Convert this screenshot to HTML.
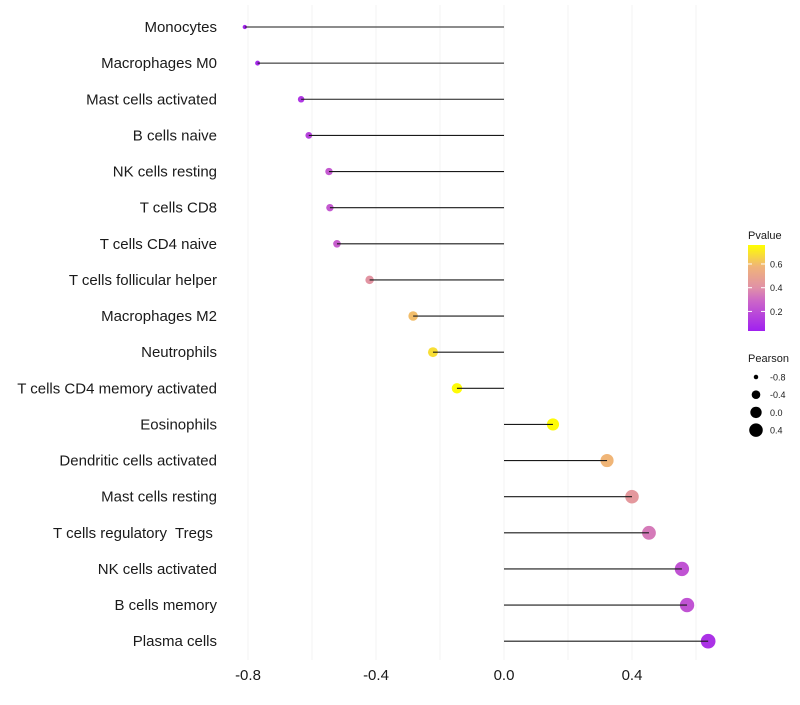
<!DOCTYPE html>
<html><head><meta charset="utf-8"><style>
body{margin:0;background:#fff;font-family:"Liberation Sans",sans-serif}
</style></head><body>
<svg id="chart" width="800" height="700" xmlns="http://www.w3.org/2000/svg"></svg>
<script>
const categories=["Monocytes","Macrophages M0","Mast cells activated","B cells naive","NK cells resting","T cells CD8","T cells CD4 naive","T cells follicular helper","Macrophages M2","Neutrophils","T cells CD4 memory activated","Eosinophils","Dendritic cells activated","Mast cells resting","T cells regulatory  Tregs ","NK cells activated","B cells memory","Plasma cells"];
const pearson=[-0.81,-0.77,-0.634,-0.61,-0.547,-0.544,-0.522,-0.42,-0.284,-0.222,-0.147,0.153,0.322,0.40,0.453,0.556,0.572,0.638];
const pvalue=[0.05,0.07,0.12,0.16,0.24,0.24,0.26,0.42,0.6,0.68,0.75,0.75,0.58,0.44,0.34,0.22,0.22,0.1];
const xTicks=[-0.8,-0.4,0.0,0.4];
const xTickLabels=["-0.8","-0.4","0.0","0.4"];
const pTicks=[0.2,0.4,0.6];
const sizeTicks=[-0.8,-0.4,0.0,0.4];
const NS="http://www.w3.org/2000/svg";
const svg=document.getElementById('chart');
function mk(t,a,p){const e=document.createElementNS(NS,t);for(const k in a)e.setAttribute(k,a[k]);(p||svg).appendChild(e);return e;}
const x=v=>504+v*320;
const y=i=>27+i*36.13;
const pMin=0.035,pMax=0.76;
const stops=[[0,[160,32,240]],[0.35,[204,102,200]],[0.5,[224,144,168]],[0.75,[240,180,120]],[1,[255,255,0]]];
function colT(t){t=Math.max(0,Math.min(1,t));for(let k=1;k<stops.length;k++){if(t<=stops[k][0]){const [t0,a]=stops[k-1],[t1,b]=stops[k];const f=(t-t0)/(t1-t0);return `rgb(${a.map((c,j)=>Math.round(c+(b[j]-c)*f)).join(',')})`;}}return 'rgb(255,255,0)';}
const col=p=>colT((p-pMin)/(pMax-pMin));
const r=v=>Math.sqrt(Math.max(1,5+(v+0.8)*34));
for(let v=-0.8;v<=0.61;v+=0.2){const g=mk('line',{x1:x(v),x2:x(v),y1:5,y2:660,stroke:'#f3f3f3','stroke-width':1});

}
categories.forEach((c,i)=>{
const t=mk('text',{x:217,y:y(i)+5,'text-anchor':'end','font-size':15,fill:'#1a1a1a','xml:space':'preserve'});t.style.whiteSpace='pre';t.textContent=c;


const d=mk('circle',{cx:x(pearson[i]),cy:y(i),r:r(pearson[i]),fill:col(pvalue[i])});


const l=mk('line',{x1:x(0),x2:x(pearson[i]),y1:y(i),y2:y(i),stroke:'#1a1a1a','stroke-width':1.1});


});
xTicks.forEach((v,i)=>{const t=mk('text',{x:x(v),y:680,'text-anchor':'middle','font-size':15,fill:'#1a1a1a'});t.textContent=xTickLabels[i];

});
const lt=mk('text',{x:748,y:239,'font-size':11,fill:'#1a1a1a'});lt.textContent='Pvalue';


const defs=mk('defs',{});const gr=mk('linearGradient',{id:'pg',x1:0,y1:1,x2:0,y2:0},defs);
stops.forEach(s=>mk('stop',{offset:s[0],'stop-color':colT(s[0])},gr));
const cb=mk('rect',{x:748,y:245,width:17,height:86,fill:'url(#pg)'});


const py=p=>331-(p-pMin)/(pMax-pMin)*86;
pTicks.forEach(p=>{mk('line',{x1:748,x2:752,y1:py(p),y2:py(p),stroke:'#fff'});mk('line',{x1:761,x2:765,y1:py(p),y2:py(p),stroke:'#fff'});
const t=mk('text',{x:770,y:py(p)+3.5,'font-size':9,fill:'#1a1a1a'});t.textContent=p.toFixed(1);

});
const st=mk('text',{x:748,y:362,'font-size':11,fill:'#1a1a1a'});st.textContent='Pearson';


sizeTicks.forEach((v,i)=>{const cy=377+i*17.7;
const c=mk('circle',{cx:756,cy:cy,r:r(v),fill:'#000'});


const t=mk('text',{x:770,y:cy+3.5,'font-size':9,fill:'#1a1a1a'});t.textContent=v.toFixed(1);

});
</script>
</body></html>
